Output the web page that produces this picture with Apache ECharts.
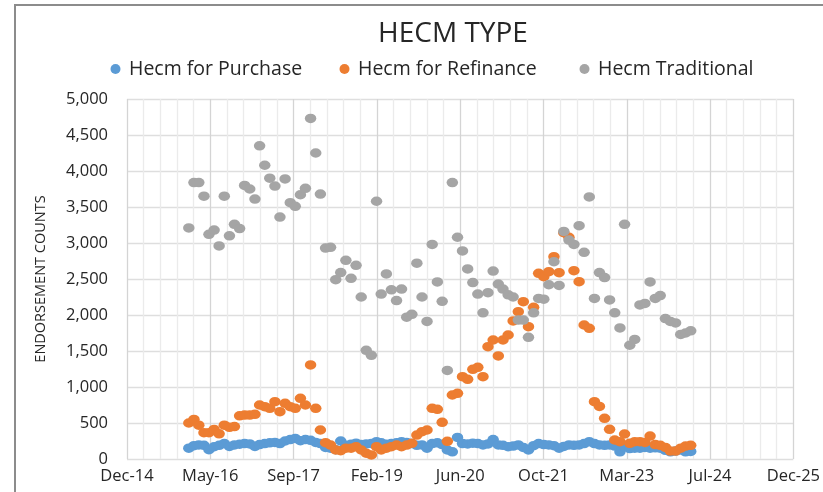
<!DOCTYPE html>
<html><head><meta charset="utf-8">
<script src="https://cdn.jsdelivr.net/npm/echarts@6/dist/echarts.min.js"></script>
<style>html,body{margin:0;padding:0;background:#fff}#c{width:823px;height:492px}</style>
</head><body><div id="c"></div>
<script>
// Month of each observation (plotted at month end)
const months = [
 '2015-12',
 '2016-01','2016-02','2016-03','2016-04','2016-05','2016-06','2016-07','2016-08','2016-09','2016-10','2016-11','2016-12',
 '2017-01','2017-02','2017-03','2017-04','2017-05','2017-06','2017-07','2017-08','2017-09','2017-10','2017-11','2017-12',
 '2018-01','2018-02','2018-03','2018-04','2018-05','2018-06','2018-07','2018-08','2018-09','2018-10','2018-11','2018-12',
 '2019-01','2019-02','2019-03','2019-04','2019-05','2019-06','2019-07','2019-08','2019-09','2019-10','2019-11','2019-12',
 '2020-01','2020-02','2020-03','2020-04','2020-05','2020-06','2020-07','2020-08','2020-09','2020-10','2020-11','2020-12',
 '2021-01','2021-02','2021-03','2021-04','2021-05','2021-06','2021-07','2021-08','2021-09','2021-10','2021-11','2021-12',
 '2022-01','2022-02','2022-03','2022-04','2022-05','2022-06','2022-07','2022-08','2022-09','2022-10','2022-11','2022-12',
 '2023-01','2023-02','2023-03','2023-04','2023-05','2023-06','2023-07','2023-08','2023-09','2023-10','2023-11','2023-12',
 '2024-01','2024-02','2024-03'
];
const purchase = [
 150,185,195,190,130,170,190,215,175,195,
 205,215,210,175,200,215,225,230,215,250,
 270,285,255,270,260,230,215,160,150,130,
 250,190,205,220,200,210,215,240,225,205,
 215,225,240,230,215,190,195,150,215,225,
 200,125,100,300,215,210,220,215,195,210,
 270,195,190,170,180,195,160,125,185,215,
 200,195,185,150,175,195,190,195,215,240,
 215,195,190,195,180,100,170,145,150,150,
 160,150,155,150,120,100,110,125,100,105
];
const refinance = [
 500,550,470,365,365,410,350,470,440,450,
 600,610,610,620,750,727,704,796,657,773,
 727,704,843,750,1306,704,403,227,194,125,
 115,150,150,171,125,80,56,171,125,150,
 171,194,171,194,218,333,379,403,704,690,
 510,246,889,912,1143,1107,1246,1274,1143,1560,
 1653,1431,1653,1722,1917,2046,2185,1838,2107,2579,
 2532,2601,2810,2588,3143,3079,2615,2463,1861,1815,
 796,730,565,412,264,240,347,218,240,240,
 230,319,200,190,160,110,110,150,180,190
];
const traditional = [
 3210,3840,3840,3650,3120,3180,2960,3650,3100,3260,
 3200,3800,3750,3610,4350,4080,3900,3790,3360,3890,
 3560,3510,3670,3760,4730,4250,3680,2930,2940,2490,
 2590,2760,2510,2690,2250,1510,1440,3580,2290,2570,
 2350,2200,2360,1970,2010,2720,2250,1910,2980,2460,
 2190,1230,3840,3080,2890,2640,2450,2290,2030,2310,
 2610,2430,2360,2280,2250,1930,1930,1690,2030,2230,
 2220,2420,2740,2410,3160,3040,2980,3240,2870,3640,
 2230,2590,2520,2210,2030,1820,3260,1580,1660,2140,
 2160,2460,2230,2270,1950,1910,1890,1730,1750,1780
];
const seriesNames = ['Hecm for Purchase','Hecm for Refinance','Hecm Traditional'];
const colors = ['#5B9BD5','#ED7D31','#A5A5A5'];
const axisOrigin = Date.UTC(2014, 11, 25); // x axis start (Dec-14)
const DAY = 86400000;
const monNames = ['Jan','Feb','Mar','Apr','May','Jun','Jul','Aug','Sep','Oct','Nov','Dec'];

function monthEndDay(m) {
  const [y, mo] = m.split('-').map(Number);
  return (Date.UTC(y, mo, 0) - axisOrigin) / DAY;
}
function pairs(vals) { return vals.map((v, i) => [monthEndDay(months[i]), v]); }
function fmtDate(v) {
  const d = new Date(axisOrigin + v * DAY);
  return monNames[d.getUTCMonth()] + '-' + String(d.getUTCFullYear() % 100).padStart(2, '0');
}
function fmtNum(v) { return String(v).replace(/\B(?=(\d{3})+(?!\d))/g, ','); }

const FONT = 'Open Sans';
const chart = echarts.init(document.getElementById('c'), null, {renderer: 'canvas'});
function legend(i, left) {
  return {
    data: [seriesNames[i]], left: left, top: 59, padding: 0, icon: 'circle',
    itemWidth: 17, itemHeight: 10,
    textStyle: {fontFamily: FONT, fontSize: 19.5, color: '#262626'}
  };
}
chart.setOption({
  animation: false,
  backgroundColor: '#fff',
  title: {
    text: 'HECM TYPE', left: 448, top: 15, textAlign: 'center',
    textStyle: {fontFamily: FONT, fontSize: 28, fontWeight: 'normal', color: '#262626'}
  },
  graphic: [{
    type: 'rect', shape: {x: 15, y: 5, width: 900, height: 600},
    style: {fill: 'none', stroke: '#8c8c8c', lineWidth: 2}, silent: true, z: 100
  }],
  legend: [legend(0, 110.5), legend(1, 339.5), legend(2, 579.5)],
  grid: {left: 127, right: 27, top: 99, bottom: 33, containLabel: false},
  xAxis: {
    type: 'value', min: 0, max: 4000, interval: 500,
    axisLine: {show: false}, axisTick: {show: false},
    splitLine: {show: true, lineStyle: {color: '#d4d4d4', width: 1.3}},
    minorTick: {show: false, splitNumber: 5},
    minorSplitLine: {show: true, lineStyle: {color: '#ebebeb', width: 1.3}},
    axisLabel: {formatter: fmtDate, fontFamily: FONT, fontSize: 16.5, color: '#262626', margin: 9}
  },
  yAxis: {
    type: 'value', min: 0, max: 5000, interval: 500,
    name: 'ENDORSEMENT COUNTS', nameLocation: 'middle', nameRotate: 90, nameGap: 79,
    nameTextStyle: {fontFamily: FONT, fontSize: 14.5, color: '#262626'},
    axisLine: {show: false}, axisTick: {show: false},
    splitLine: {show: true, lineStyle: {color: '#dedede', width: 1.3}},
    axisLabel: {formatter: fmtNum, fontFamily: FONT, fontSize: 16.5, color: '#262626', margin: 19}
  },
  series: [purchase, refinance, traditional].map((vals, i) => ({
    name: seriesNames[i], type: 'scatter', data: pairs(vals),
    symbol: 'circle', symbolSize: [11.5, 9.5],
    itemStyle: {color: colors[i], opacity: 1}
  }))
});
</script></body></html>
